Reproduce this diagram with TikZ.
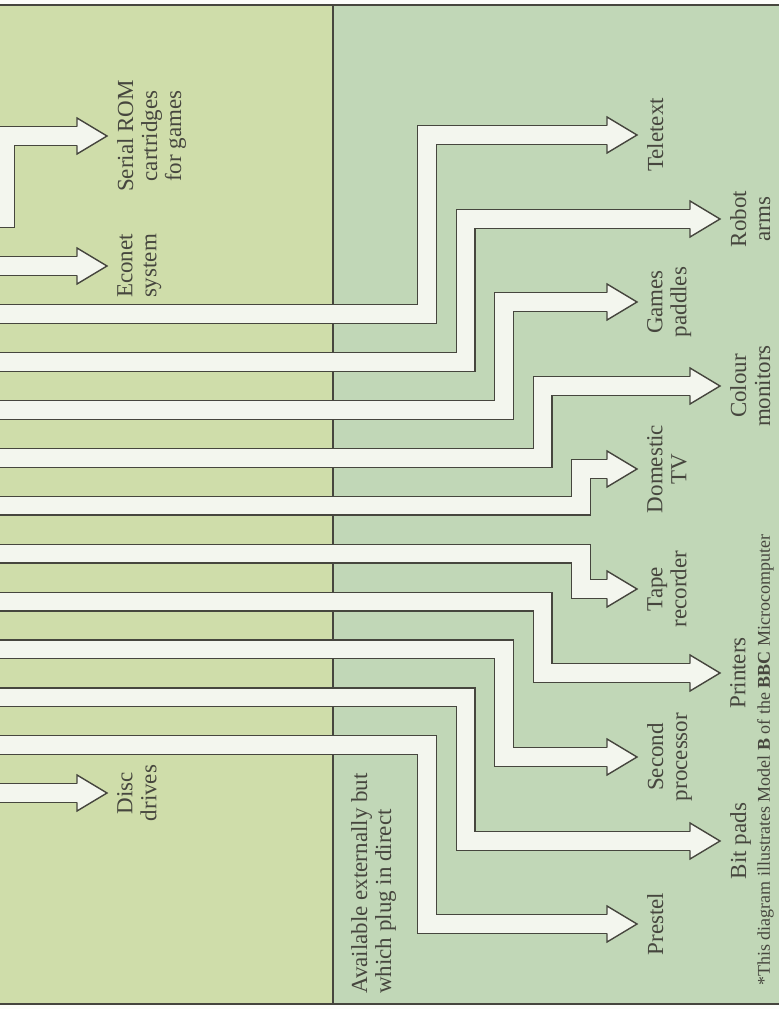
\documentclass[tikz,border=0pt]{standalone}
\usepackage{fontspec}
\setmainfont{Liberation Serif}
\usetikzlibrary{positioning}

\definecolor{panelleft}{RGB}{207,221,170}
\definecolor{panelright}{RGB}{193,215,183}
\definecolor{pipefill}{RGB}{243,246,238}
\definecolor{inkline}{RGB}{70,70,62}

\begin{document}
\begin{tikzpicture}[
    x=1pt, y=-1pt,
    every node/.style={font=\fontsize{23}{24}\selectfont},
    lbl/.style={rotate=90, anchor=north, align=center, inner sep=0pt, text=inkline},
    shaft/.style={draw=inkline, line width=1.4pt, double=pipefill, double distance=17.2pt},
    pics/outhead/.style={code={
        \fill[pipefill] (-30,-18) -- (0,0) -- (-30,18) -- cycle;
        \draw[inkline, line width=1.4pt, line join=miter]
            (-30,-9.3) -- (-30,-18) -- (0,0) -- (-30,18) -- (-30,9.3);
    }}
]
\useasboundingbox (0,0) rectangle (779,1009);
\clip (0,0) rectangle (779,1009);

% 背景
\fill[white!94!panelleft] (0,0) rectangle (779,1009);
\fill[panelleft] (0,5) rectangle (333,1004);
\fill[panelright] (333,5) rectangle (779,1004);
\draw[inkline, line width=1.2pt] (0,5) -- (779,5) (0,1004) -- (779,1004) (333,5) -- (333,1004);

% 左侧标签
\node[lbl] (serialrom) at (117,136) {Serial ROM\\cartridges\\for games};
\node[lbl] (econet) at (117,266) {Econet\\system};
\node[lbl] (disc) at (117,793) {Disc\\drives};

% 右侧标签
\node[lbl] (teletext) at (647,135) {Teletext};
\node[lbl] (robot) at (730,219) {Robot\\arms};
\node[lbl] (paddles) at (647,302) {Games\\paddles};
\node[lbl] (monitors) at (730,386) {Colour\\monitors};
\node[lbl] (tv) at (647,469) {Domestic\\TV};
\node[lbl] (tape) at (647,589) {Tape\\recorder};
\node[lbl] (printers) at (730,673) {Printers};
\node[lbl] (second) at (647,757) {Second\\processor};
\node[lbl] (bitpads) at (730,841) {Bit pads};
\node[lbl] (prestel) at (647,924) {Prestel};

\node[lbl, anchor=north west, align=left] (external) at (351,994) {Available externally but\\which plug in direct};
\node[lbl, anchor=north west, font=\fontsize{18}{20}\selectfont] (note) at (757,986)
    {*This diagram illustrates Model \textbf{B} of the \textbf{BBC} Microcomputer};

% 左侧箭头
\draw[shaft] (-40,218) -| (5,136) -- ([xshift=-40pt]serialrom.north);
\draw[shaft] (-40,266) -- ([xshift=-40pt]econet.north);
\draw[shaft] (-40,793) -- ([xshift=-40pt]disc.north);
\pic at ([xshift=-10pt]serialrom.north) {outhead};
\pic at ([xshift=-10pt]econet.north) {outhead};
\pic at ([xshift=-10pt]disc.north) {outhead};

% 右侧箭头
\draw[shaft] (-40,314) -| (427,135) -- ([xshift=-40pt]teletext.north);
\draw[shaft] (-40,362) -| (465.5,219) -- ([xshift=-40pt]robot.north);
\draw[shaft] (-40,410) -| (504,302) -- ([xshift=-40pt]paddles.north);
\draw[shaft] (-40,458) -| (542.5,386) -- ([xshift=-40pt]monitors.north);
\draw[shaft] (-40,505.5) -| (581,469) -- ([xshift=-40pt]tv.north);
\draw[shaft] (-40,553.5) -| (581,589) -- ([xshift=-40pt]tape.north);
\draw[shaft] (-40,601.5) -| (542.5,673) -- ([xshift=-40pt]printers.north);
\draw[shaft] (-40,649.3) -| (504,757) -- ([xshift=-40pt]second.north);
\draw[shaft] (-40,697.2) -| (465.5,841) -- ([xshift=-40pt]bitpads.north);
\draw[shaft] (-40,745) -| (427,924) -- ([xshift=-40pt]prestel.north);
\foreach \n in {teletext,robot,paddles,monitors,tv,tape,printers,second,bitpads,prestel}
    \pic at ([xshift=-10pt]\n.north) {outhead};

\end{tikzpicture}
\end{document}
